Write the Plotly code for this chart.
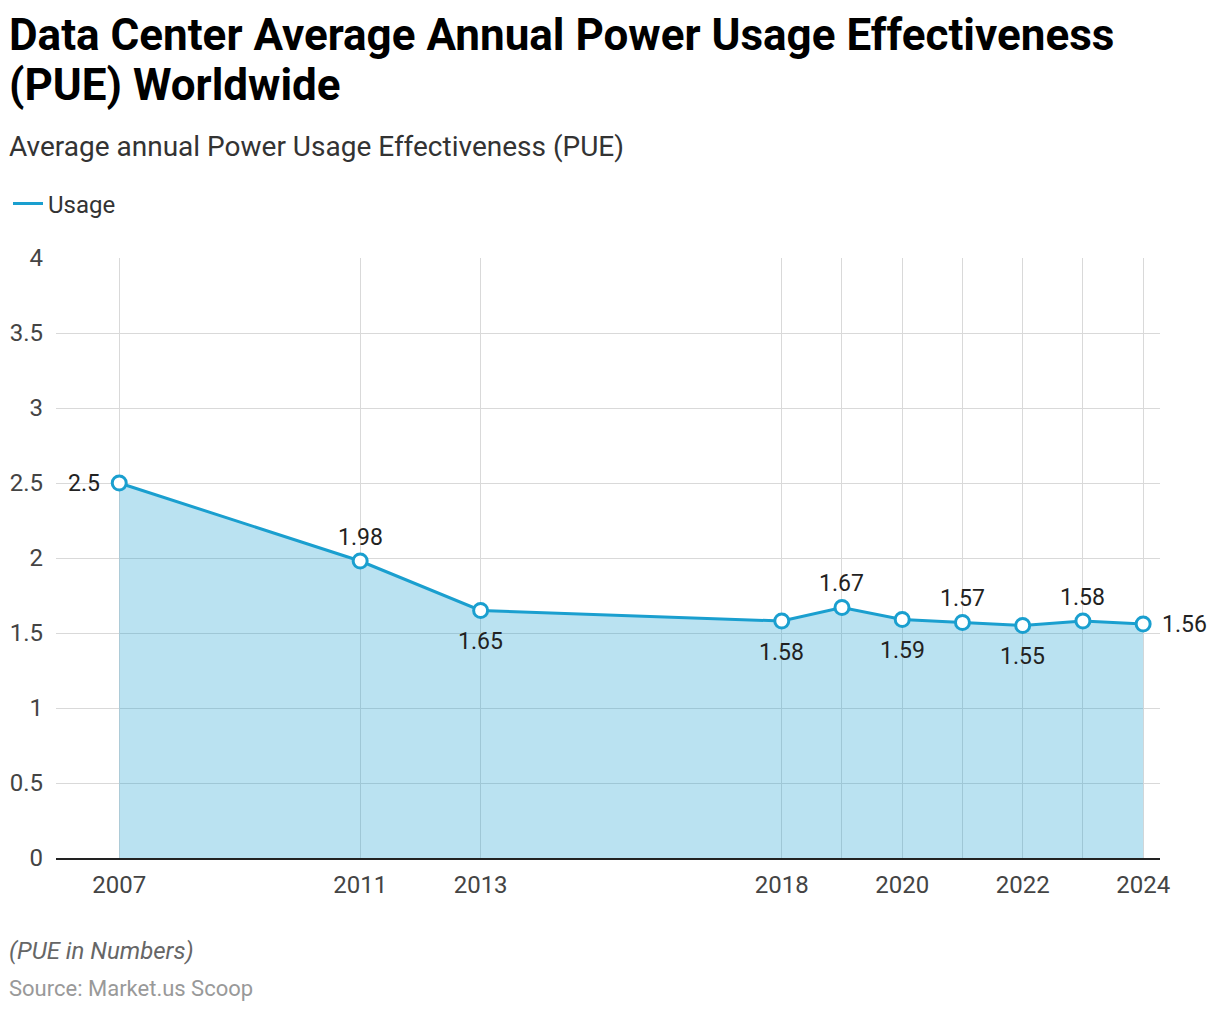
import plotly.graph_objects as go

years = [2007, 2011, 2013, 2018, 2019, 2020, 2021, 2022, 2023, 2024]
pue = [2.5, 1.98, 1.65, 1.58, 1.67, 1.59, 1.57, 1.55, 1.58, 1.56]
label_side = ["left", "top", "bottom", "bottom", "top", "bottom", "top", "bottom", "top", "right"]
tick_years = years
tick_text = ["2007", "2011", "2013", "2018", "", "2020", "", "2022", "", "2024"]
y_ticks = [0, 0.5, 1, 1.5, 2, 2.5, 3, 3.5, 4]
y_text = ["0", "0.5", "1", "1.5", "2", "2.5", "3", "3.5", "4"]

line_color = "#1a9fcf"

fig = go.Figure()
fig.add_trace(go.Scatter(
    x=years, y=pue, name="Usage", mode="lines+markers", showlegend=False,
    line=dict(color=line_color, width=3),
    fill="tozeroy", fillcolor="rgba(26,159,207,0.3)",
    marker=dict(size=14, color="white", line=dict(color=line_color, width=3)),
    cliponaxis=False,
))
# legend entry (line only)
fig.add_trace(go.Scatter(
    x=[None], y=[None], name="Usage", mode="lines",
    line=dict(color=line_color, width=3), showlegend=True,
))

W, H = 1204, 996
L, R, T, B = 48, 52, 250, 146
ph = H - T - B
pw = W - L - R

def py(px):
    return (H - B - px) / ph

def pxx(px):
    return (px - L) / pw

shift = {
    "top": dict(xanchor="center", yanchor="middle", xshift=0, yshift=24),
    "bottom": dict(xanchor="center", yanchor="middle", xshift=0, yshift=-31),
    "left": dict(xanchor="right", yanchor="middle", xshift=-17, yshift=0),
    "right": dict(xanchor="left", yanchor="middle", xshift=17, yshift=0),
}

annotations = []
for x, v, side in zip(years, pue, label_side):
    annotations.append(dict(
        x=x, y=v, xref="x", yref="y", text=f"{v:g}", showarrow=False,
        font=dict(family="Roboto", size=23, color="#222222"), **shift[side]))

tx = pxx(-1)
annotations += [
    dict(text="<b>Data Center Average Annual Power Usage Effectiveness</b>", xref="paper", yref="paper",
         x=tx, y=py(27), xanchor="left", yanchor="middle", showarrow=False,
         font=dict(family="Roboto", size=44, color="#000000")),
    dict(text="<b>(PUE) Worldwide</b>", xref="paper", yref="paper",
         x=tx, y=py(77), xanchor="left", yanchor="middle", showarrow=False,
         font=dict(family="Roboto", size=44, color="#000000")),
    dict(text="Average annual Power Usage Effectiveness (PUE)", xref="paper", yref="paper",
         x=tx, y=py(139), xanchor="left", yanchor="middle", showarrow=False,
         font=dict(family="Roboto", size=28, color="#333333")),
    dict(text="<i>(PUE in Numbers)</i>", xref="paper", yref="paper",
         x=tx, y=py(943), xanchor="left", yanchor="middle", showarrow=False,
         font=dict(family="Roboto", size=24, color="#666666")),
    dict(text="Source: Market.us Scoop", xref="paper", yref="paper",
         x=tx, y=py(980), xanchor="left", yanchor="middle", showarrow=False,
         font=dict(family="Roboto", size=22, color="#999999")),
]

fig.update_layout(
    width=W, height=H,
    margin=dict(l=L, r=R, t=T, b=B, autoexpand=False),
    paper_bgcolor="white", plot_bgcolor="white",
    font=dict(family="Roboto", size=24, color="#444444"),
    showlegend=True,
    legend=dict(
        orientation="h", xref="container", yref="container",
        x=0.0, xanchor="left", y=1 - 196 / H, yanchor="middle",
        font=dict(family="Roboto", size=24, color="#333333"),
        itemwidth=30,
    ),
    xaxis=dict(
        range=[2005.95, 2024.28], automargin=False,
        tickmode="array", tickvals=tick_years, ticktext=tick_text,
        showgrid=True, gridcolor="#d9d9d9", gridwidth=1,
        zeroline=False, showline=True, linecolor="#222222", linewidth=1.5,
        ticks="", ticklabelstandoff=4, tickfont=dict(size=24, color="#444444"),
    ),
    yaxis=dict(
        range=[0, 4], automargin=False, tickmode="array", tickvals=y_ticks, ticktext=y_text,
        showgrid=True, gridcolor="#d9d9d9", gridwidth=1,
        zeroline=False, showline=False, ticks="", ticklabelstandoff=12,
        tickfont=dict(size=24, color="#444444"),
    ),
    annotations=annotations,
)

fig.write_html("out.html")
